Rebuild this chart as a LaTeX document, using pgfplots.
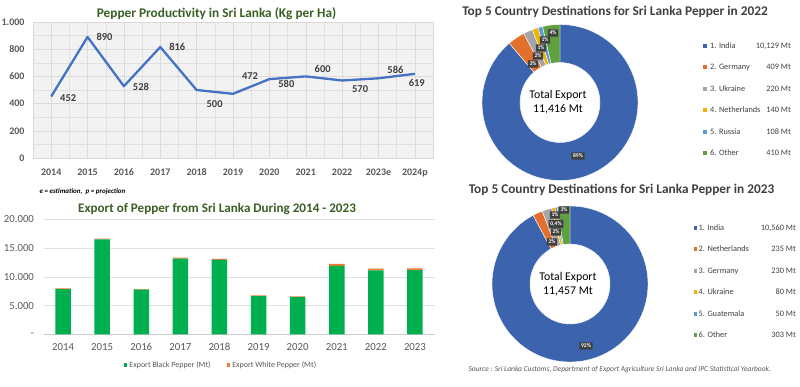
\documentclass[border=0pt]{standalone}
\usepackage{pgfplots}
\pgfplotsset{compat=1.18}
\usepackage{fontspec}
\setmainfont{Carlito}
\usetikzlibrary{calc}
\definecolor{ttlgreen}{RGB}{58,96,35}
\definecolor{ttlgray}{RGB}{64,64,64}
\definecolor{tickgray}{RGB}{89,89,89}
\definecolor{lineblue}{RGB}{68,114,196}
\definecolor{pblue}{RGB}{60,99,174}
\definecolor{porange}{RGB}{226,111,43}
\definecolor{pgray}{RGB}{165,165,165}
\definecolor{pgold}{RGB}{240,180,0}
\definecolor{plblue}{RGB}{91,155,213}
\definecolor{pgreen}{RGB}{96,160,64}
\definecolor{bgreen}{RGB}{0,176,80}
\definecolor{borange}{RGB}{237,125,49}
\newcommand\fs[1]{\fontsize{#1}{#1}\selectfont}
\def\Ro{78pt}
\def\Ri{40pt}
\newcommand\slice[3]{%
  \fill[#3, draw=white, line width=0.4pt] ($(C)+(#1:\Ro)$) arc[start angle=#1, end angle=#2, radius=\Ro]
    -- ($(C)+(#2:\Ri)$) arc[start angle=#2, end angle=#1, radius=\Ri] -- cycle;}
\newcommand\buildslices[3]{%
  \gdef\acc{90}%
  \global\let#1\empty
  \foreach \v/\col in {#3}{%
    \pgfmathsetmacro\aend{\acc-360*(\v/#2)}%
    \xdef#1{\unexpanded\expandafter{#1}\noexpand\slice{\acc}{\aend}{\col}}%
    \xdef\acc{\aend}%
  }%
}
\buildslices\slicesA{11416}{10129/pblue,409/porange,220/pgray,140/pgold,108/plblue,410/pgreen}
\buildslices\slicesB{11458}{10560/pblue,235/porange,230/pgray,80/pgold,50/plblue,303/pgreen}
\tikzset{pct/.style={fill=black!75, text=white, font=\bfseries\fs{5.6}, inner sep=1.7pt, rounded corners=0.4pt}}
\begin{document}
\begin{tikzpicture}
\useasboundingbox (0,0) rectangle (800pt,-387pt);
\fill[white] (0,0) rectangle (800pt,-387pt);
% ---------- line chart
\begin{axis}[at={(33pt,-158pt)}, anchor=south west, scale only axis, width=400pt, height=136pt,
  xmin=-0.5, xmax=10.5, ymin=0, ymax=1000,
  xtick={0,...,10}, xticklabels={2014,2015,2016,2017,2018,2019,2020,2021,2022,2023e,2024p},
  ytick={0,200,...,1000}, minor x tick num=1, minor y tick num=1,
  grid=both, grid style={black!12}, major grid style={black!14},
  axis background/.style={fill=black!5},
  axis line style={black!15}, major tick length=0pt, minor tick length=0pt,
  /pgf/number format/.cd, 1000 sep={.}, assume math mode=true, /pgfplots/.cd,
  ticklabel style={font=\bfseries\fs{10}, text=tickgray},
  yticklabel style={xshift=-5pt},
  xticklabel style={anchor=center, text height=6.5pt, text depth=0pt, yshift=-14pt},
  clip=false]
\addplot[lineblue, line width=2.3pt, line join=round] coordinates {
 (0,452) (1,890) (2,528) (3,816) (4,500) (5,472) (6,580) (7,600) (8,570) (9,586) (10,619)};
\addplot[draw=none, nodes near coords, point meta=explicit,
  visualization depends on={\thisrow{dx}\as\dx},
  visualization depends on={\thisrow{dy}\as\dy},
  every node near coord/.append style={anchor=center, xshift=\dx pt, yshift=\dy pt, font=\bfseries\fs{10.5}, text=ttlgray}]
  table[x=x, y=y, meta=y] {
x y dx dy
0 452 17 -1.5
1 890 17 0
2 528 17 -1
3 816 17 0
4 500 18 -14
5 472 17 18
6 580 17 -5
7 600 17 7
8 570 18 -8.5
9 586 17 8
10 619 2 -9
};
\end{axis}
\node[font=\bfseries\fs{13.3}, text=ttlgreen] at (216.5pt,-14pt) {Pepper Productivity in Sri Lanka (Kg per Ha)};
\node[font=\bfseries\itshape\fs{7}, anchor=west] at (36pt,-192pt) {e = estimation,\ \ p = projection};
% ---------- bar chart
\begin{axis}[at={(43.5pt,-334.3pt)}, anchor=south west, scale only axis, width=391pt, height=115pt,
  ybar stacked, bar width=15.5pt, xmin=-0.5, xmax=9.5, ymin=0, ymax=20000,
  xtick={0,...,9}, xticklabels={2014,2015,2016,2017,2018,2019,2020,2021,2022,2023},
  ytick={0,5000,10000,15000,20000}, yticklabels={-,5.000,10.000,15.000,20.000},
  scaled y ticks=false, ymajorgrids, grid style={black!12},
  axis x line*=bottom, axis y line*=left, y axis line style={draw=none}, x axis line style={black!20},
  major tick length=0pt,
  ticklabel style={font=\fs{10.8}, text=tickgray},
  yticklabel style={xshift=-6pt},
  xticklabel style={anchor=center, text height=7pt, text depth=0pt, yshift=-12.5pt},
  legend style={at={(0.454,-0.267)}, anchor=center, draw=none, fill=none, font=\fs{8}, text=tickgray,
    legend columns=2, /tikz/every even column/.append style={column sep=14pt}},
  legend image code/.code={\fill[#1] (0pt,-1.8pt) rectangle (3.6pt,1.8pt);},
  clip=false]
\addplot[fill=bgreen, draw=none] coordinates {(0,7850) (1,16500) (2,7750) (3,13150) (4,12950) (5,6650) (6,6450) (7,11900) (8,11100) (9,11150)};
\addplot[fill=borange, draw=none] coordinates {(0,150) (1,150) (2,120) (3,200) (4,150) (5,130) (6,160) (7,330) (8,316) (9,307)};
\legend{Export Black Pepper (Mt), Export White Pepper (Mt)}
\end{axis}
\node[font=\bfseries\fs{13.1}, text=ttlgreen] at (217pt,-209pt) {Export of Pepper from Sri Lanka During 2014 - 2023};
% ---------- donut 2022
\begin{axis}[at={(560pt,-102.5pt)}, anchor=center, hide axis, scale only axis, width=156pt, height=156pt,
  xmin=-1, xmax=1, ymin=-1, ymax=1, clip=false]
\addplot[draw=none] coordinates {(0,0)};
\coordinate (C) at (axis cs:0,0);
\slicesA
\end{axis}
\node[font=\bfseries\fs{13.3}, text=ttlgray] at (615pt,-12pt) {Top 5 Country Destinations for Sri Lanka Pepper in 2022};
\node[font=\fs{11.8}, align=center] at (558pt,-102pt) {Total Export\\[2pt]11,416 Mt};
\node[pct] at (578pt,-156pt) {89\%};
\node[pct] at (553pt,-33pt) {4\%};
\node[pct] at (545pt,-40pt) {1\%};
\node[pct] at (541pt,-48pt) {1\%};
\node[pct] at (538pt,-56pt) {2\%};
\node[pct] at (533pt,-64pt) {3\%};
\foreach \yy/\col/\nm/\val in {46/pblue/1. India/{10,129 Mt}, 67/porange/2. Germany/409 Mt, 89/pgray/3. Ukraine/220 Mt,
   110/pgold/4. Netherlands/140 Mt, 132/plblue/5. Russia/108 Mt, 153/pgreen/6. Other/410 Mt}{
  \fill[\col] (703.3pt,-\yy pt+1.8pt) rectangle (706.9pt,-\yy pt-1.8pt);
  \node[anchor=west, font=\fs{8.3}, text=ttlgray, inner sep=0pt] at (710pt,-\yy pt) {\nm};
  \node[anchor=east, font=\fs{8.3}, text=ttlgray, inner sep=0pt] at (791pt,-\yy pt) {\val};
}
% ---------- donut 2023
\begin{axis}[at={(570pt,-284pt)}, anchor=center, hide axis, scale only axis, width=156pt, height=156pt,
  xmin=-1, xmax=1, ymin=-1, ymax=1, clip=false]
\addplot[draw=none] coordinates {(0,0)};
\coordinate (C) at (axis cs:0,0);
\slicesB
\end{axis}
\node[font=\bfseries\fs{13.3}, text=ttlgray] at (621.5pt,-190pt) {Top 5 Country Destinations for Sri Lanka Pepper in 2023};
\node[font=\fs{11.8}, align=center] at (568pt,-284pt) {Total Export\\[2pt]11,457 Mt};
\node[pct] at (586pt,-346pt) {92\%};
\node[pct] at (564pt,-210pt) {3\%};
\node[pct] at (555pt,-215pt) {1\%};
\node[pct] at (556pt,-224pt) {0,4\%};
\node[pct] at (556pt,-232pt) {2\%};
\node[pct] at (552pt,-242pt) {2\%};
\foreach \yy/\col/\nm/\val in {228/pblue/1. India/{10,560 Mt}, 249/porange/2. Netherlands/235 Mt, 271/pgray/3. Germany/230 Mt,
   292/pgold/4. Ukraine/80 Mt, 314/plblue/5. Guatemala/50 Mt, 335/pgreen/6. Other/303 Mt}{
  \fill[\col] (693.7pt,-\yy pt+1.8pt) rectangle (697.3pt,-\yy pt-1.8pt);
  \node[anchor=west, font=\fs{8.3}, text=ttlgray, inner sep=0pt] at (698.5pt,-\yy pt) {\nm};
  \node[anchor=east, font=\fs{8.3}, text=ttlgray, inner sep=0pt] at (796pt,-\yy pt) {\val};
}
\node[anchor=west, font=\itshape\fs{7.5}, text=tickgray] at (465pt,-370pt) {Source : Sri Lanka Customs, Department of Export Agriculture Sri Lanka and IPC Statistical Yearbook.};
\end{tikzpicture}
\end{document}
